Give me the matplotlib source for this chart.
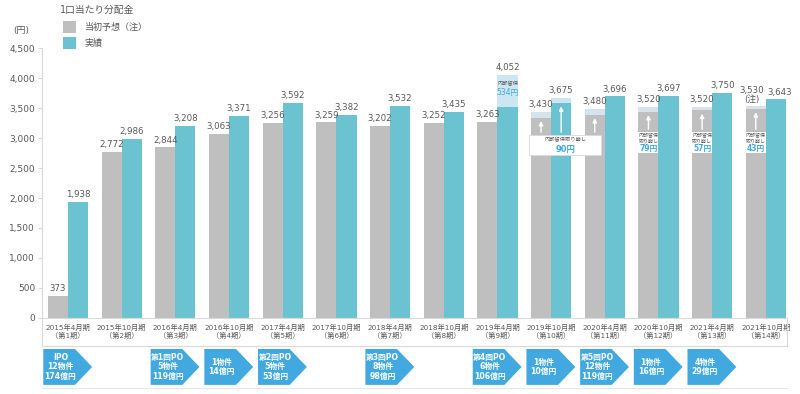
import numpy as np
import matplotlib
matplotlib.use("Agg")
import matplotlib.pyplot as plt
import matplotlib.transforms as mtransforms
from matplotlib.patches import Polygon, Rectangle

# 1口当たり分配金 (円)
periods = ["2015年4月期", "2015年10月期", "2016年4月期", "2016年10月期",
           "2017年4月期", "2017年10月期", "2018年4月期", "2018年10月期",
           "2019年4月期", "2019年10月期", "2020年4月期", "2020年10月期",
           "2021年4月期", "2021年10月期"]
terms = ["第1期", "第2期", "第3期", "第4期", "第5期", "第6期", "第7期",
         "第8期", "第9期", "第10期", "第11期", "第12期", "第13期", "第14期"]
forecast = [373, 2772, 2844, 3063, 3256, 3259, 3202, 3252, 3263, 3430, 3480, 3520, 3520, 3530]
actual = [1938, 2986, 3208, 3371, 3592, 3382, 3532, 3435, 4052, 3675, 3696, 3697, 3750, 3643]

# 内部留保 (積立 / 取り崩し)
reserve_f_idx = [9, 10, 11, 12, 13]
reserve_f = [90, 90, 79, 57, 43]
reserve_a_idx = [8, 9]
reserve_a = [534, 90]

# 物件取得 (PO)
offer_idx = [0, 2, 3, 4, 6, 8, 9, 10, 11, 12]
offer_text = ["IPO\n12物件\n174億円", "第1回PO\n5物件\n119億円", "1物件\n14億円",
              "第2回PO\n5物件\n53億円", "第3回PO\n8物件\n98億円", "第4回PO\n6物件\n106億円",
              "1物件\n10億円", "第5回PO\n12物件\n119億円", "1物件\n16億円", "4物件\n29億円"]

plt.rcParams['font.family'] = ['DejaVu Sans', 'Noto Sans CJK JP']

GRAY = '#bfbfbf'
TEAL = '#6bc3d1'
LIGHT_G = '#d6e2ec'
LIGHT_T = '#cde6f4'
TXT = '#595959'
LINE = '#d9d9d9'
BLUE = '#41a9e0'

fig = plt.figure(figsize=(8, 3.94), dpi=100)
ax = fig.add_axes([0.0525, 0.193, 0.931, 0.685])

x = np.arange(len(periods))
w = 0.375
ax.bar(x - w / 2, forecast, w, color=GRAY, zorder=2)
ax.bar(x + w / 2, actual, w, color=TEAL, zorder=2)

fx = x[reserve_f_idx] - w / 2
ax.bar(fx, reserve_f, w, bottom=np.array(forecast)[reserve_f_idx] - np.array(reserve_f),
       color=LIGHT_G, zorder=3)
axx = x[reserve_a_idx] + w / 2
ax.bar(axx, reserve_a, w, bottom=np.array(actual)[reserve_a_idx] - np.array(reserve_a),
       color=LIGHT_T, zorder=3)

# value labels
last = len(forecast) - 1
for i, v in enumerate(forecast):
    s = f"{v:,}"
    dx = 0
    if i == last:
        s += "\n(注)"
        dx = -3
    ax.annotate(s, (x[i] - w / 2, v), xytext=(dx, 2), textcoords='offset points',
                ha='center', va='bottom', fontsize=6.2, color=TXT, linespacing=0.9)
for i, v in enumerate(actual):
    dx = 3 if i == last else 0
    ax.annotate(f"{v:,}", (x[i] + w / 2, v), xytext=(dx, 2), textcoords='offset points',
                ha='center', va='bottom', fontsize=6.2, color=TXT)

# 内部留保 534円
i8 = reserve_a_idx[0]
top8 = actual[i8]
ax.text(x[i8] + w / 2, top8 - 150, "内部留保", ha='center', va='center',
        fontsize=3.8, color=TXT, zorder=5)
ax.text(x[i8] + w / 2, top8 - 290, f"{reserve_a[0]}円", ha='center', va='center',
        fontsize=5.5, color=BLUE, zorder=5)

# 取り崩し arrows
arrow_kw = dict(arrowstyle='-|>', color='white', lw=1.0, mutation_scale=6)
ax.add_patch(Rectangle((8.59, 2717), 1.34, 333, facecolor='white', edgecolor=LINE,
                       lw=0.6, zorder=4))
ax.text(9.26, 2970, "内部留保取り崩し", ha='center', va='center', fontsize=3.8,
        color=TXT, zorder=5)
ax.text(9.26, 2810, f"{reserve_f[0]}円", ha='center', va='center', fontsize=6,
        color=BLUE, fontweight='bold', zorder=5)
for xp, top in [(x[9] - w / 2, forecast[9] - reserve_f[0]),
                (x[9] + w / 2, actual[9] - reserve_a[1]),
                (x[10] - w / 2, forecast[10] - reserve_f[1])]:
    ax.annotate('', xy=(xp, top - 10), xytext=(xp, 3050), arrowprops=arrow_kw, zorder=4)

for k in range(2, 5):
    i = reserve_f_idx[k]
    xp = x[i] - w / 2
    ax.annotate('', xy=(xp, forecast[i] - reserve_f[k] - 10), xytext=(xp, 3100),
                arrowprops=arrow_kw, zorder=4)
    ax.add_patch(Rectangle((xp - w / 2, 2750), w, 350, facecolor='white',
                           edgecolor='none', zorder=4))
    ax.text(xp, 3000, "内部留保\n取り崩し", ha='center', va='center', fontsize=3.6,
            color=TXT, linespacing=1.1, zorder=5)
    ax.text(xp, 2830, f"{reserve_f[k]}円", ha='center', va='center', fontsize=5.5,
            color=BLUE, fontweight='bold', zorder=5)

# axes styling
ax.set_xlim(-0.484, 13.39)
ax.set_ylim(0, 4500)
ax.set_yticks(np.arange(0, 4501, 500))
ax.yaxis.set_major_formatter(matplotlib.ticker.FuncFormatter(lambda v, p: f"{int(v):,}"))
ax.tick_params(axis='y', length=3, color=LINE, labelsize=6.5, labelcolor=TXT, pad=2)
ax.set_xticks(x)
ax.set_xticklabels([f"{p}\n（{t}）" for p, t in zip(periods, terms)])
ax.tick_params(axis='x', length=0, labelsize=5.2, labelcolor=TXT, pad=4)
for s in ['top', 'right']:
    ax.spines[s].set_visible(False)
ax.spines['left'].set_color(LINE)
ax.spines['bottom'].set_color(LINE)
ax.spines['left'].set_linewidth(0.8)
ax.spines['bottom'].set_linewidth(0.8)

trans = mtransforms.blended_transform_factory(ax.transData, ax.transAxes)
x0, x1 = ax.get_xlim()
tb = -0.103
ax.plot([x0, x0], [0, tb], color=LINE, lw=0.8, transform=trans, clip_on=False)
ax.plot([x1, x1], [0, tb], color=LINE, lw=0.8, transform=trans, clip_on=False)
ax.plot([x0, x1], [tb, tb], color=LINE, lw=0.8, transform=trans, clip_on=False)
ax.plot([x0, x1], [-0.259, -0.259], color='#e6e6e6', lw=0.8, transform=trans, clip_on=False)

# PO arrows
ya, yb = -0.115, -0.248
for i, s in zip(offer_idx, offer_text):
    s0 = x[i] - 0.46
    wd, tip = 0.91, 0.32
    pts = [(s0, ya), (s0 + wd - tip, ya), (s0 + wd, (ya + yb) / 2),
           (s0 + wd - tip, yb), (s0, yb)]
    ax.add_patch(Polygon(pts, closed=True, facecolor=BLUE, edgecolor='none',
                         transform=trans, clip_on=False))
    ax.text(s0 + 0.32, (ya + yb) / 2, s, transform=trans, ha='center', va='center',
            fontsize=5.6, color='white', fontweight='bold', linespacing=1.1)

# legend / titles
fig.text(60 / 800, 1 - 10 / 394, "1口当たり分配金", fontsize=7, color=TXT, va='center')
fig.text(13 / 800, 1 - 31 / 394, "(円)", fontsize=6.5, color=TXT, va='center')
fig.patches.append(Rectangle((63 / 800, 1 - 33 / 394), 13 / 800, 12 / 394,
                             facecolor=GRAY, transform=fig.transFigure))
fig.patches.append(Rectangle((63 / 800, 1 - 49 / 394), 13 / 800, 12 / 394,
                             facecolor=TEAL, transform=fig.transFigure))
fig.text(85 / 800, 1 - 27 / 394, "当初予想（注）", fontsize=6.5, color=TXT, va='center')
fig.text(85 / 800, 1 - 43 / 394, "実績", fontsize=6.5, color=TXT, va='center')

fig.savefig("out.png", dpi=100)
